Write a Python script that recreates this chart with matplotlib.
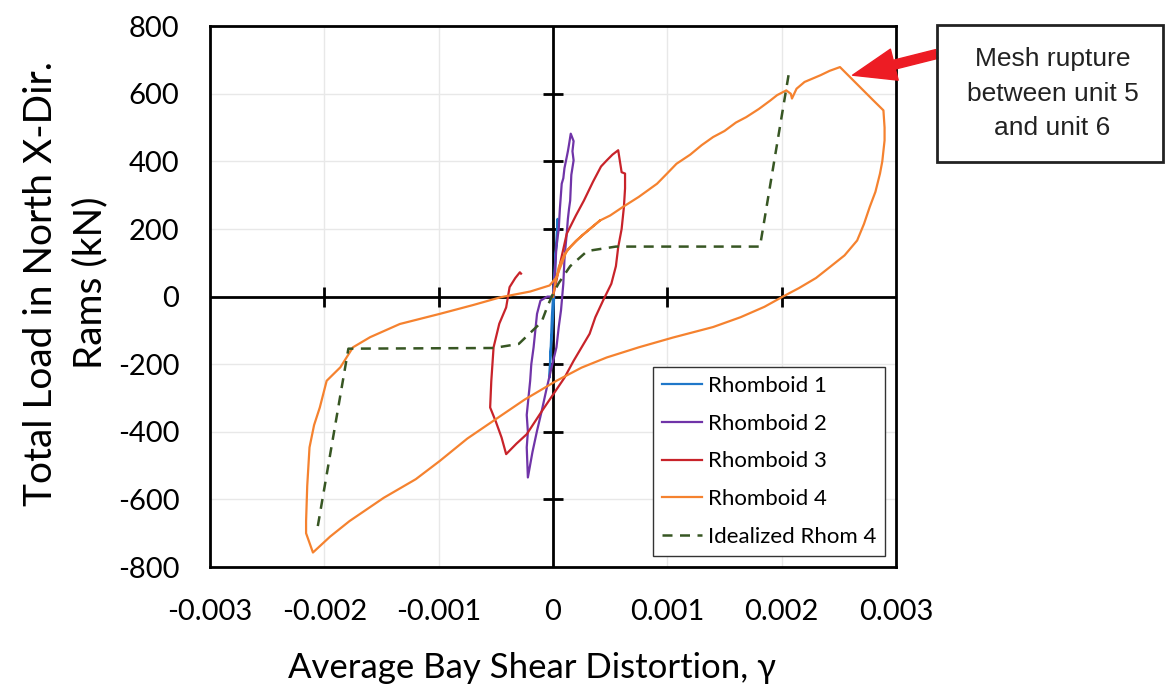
import matplotlib
matplotlib.use("Agg")
import matplotlib.pyplot as plt
import numpy as np
from matplotlib.patches import Rectangle

plt.rcParams["axes.unicode_minus"] = False

# shear distortion in units of 1e-3, load in kN
rh1_g = [0.0, 0.01, 0.02, 0.03, 0.04, 0.035, 0.02, 0.02, 0.0, -0.01, -0.02, -0.03, -0.025, -0.01, 0.0, 0.01]
rh1_p = [0, 60, 110, 170, 230, 160, 120, 60, 0, -60, -150, -239, -180, -120, -60, 0]

rh2_g = [0.0, 0.02, 0.03, 0.05, 0.06, 0.076, 0.09, 0.1, 0.12, 0.13, 0.14, 0.155, 0.18, 0.17, 0.18, 0.16,
         0.15, 0.14, 0.13, 0.12, 0.11, 0.1, 0.09, 0.07, 0.05, 0.03, -0.02, -0.06, -0.1, -0.14, -0.18,
         -0.22, -0.23, -0.22, -0.23, -0.2, -0.19, -0.17, -0.14, -0.11, -0.05, 0.0]
rh2_p = [0, 90, 150, 200, 260, 334, 350, 380, 413, 430, 450, 482, 460, 430, 403, 360,
         284, 260, 230, 186, 150, 110, 38, -40, -90, -150, -220, -278, -340, -397, -460,
         -535, -446, -400, -350, -249, -200, -150, -51, -12, 0, 0]

rh3_g = [0.0, 0.05, 0.12, 0.2, 0.27, 0.35, 0.42, 0.47, 0.52, 0.57, 0.6, 0.63, 0.63, 0.62, 0.6, 0.57,
         0.55, 0.51, 0.44, 0.37, 0.32, 0.25, 0.18, 0.1, 0.0, -0.1, -0.23, -0.32, -0.41, -0.45, -0.5,
         -0.55, -0.54, -0.52, -0.47, -0.41, -0.38, -0.33, -0.29, -0.28]
rh3_p = [0, 80, 186, 240, 284, 340, 385, 403, 420, 433, 368, 364, 320, 265, 200, 146,
         90, 38, -10, -61, -110, -150, -190, -240, -290, -340, -407, -435, -466, -417, -370,
         -328, -250, -150, -80, -32, 28, 55, 72, 68]

rh4_g = [0.0, 0.02, 0.05, 0.1, 0.15, 0.25, 0.41, 0.5, 0.61, 0.75, 0.91, 1.0, 1.08, 1.2, 1.3, 1.4,
         1.5, 1.6, 1.69, 1.8, 1.9, 1.96, 2.04, 2.08, 2.09, 2.13, 2.2, 2.34, 2.42, 2.51, 2.8, 2.89,
         2.9, 2.9, 2.88, 2.86, 2.82, 2.77, 2.72, 2.66, 2.55, 2.42, 2.3, 2.15, 2.01, 1.85, 1.64,
         1.4, 1.05, 0.75, 0.47, 0.25, 0.03, -0.25, -0.52, -0.75, -0.99, -1.2, -1.48, -1.78,
         -1.95, -2.1, -2.16, -2.16, -2.15, -2.13, -2.09, -2.04, -1.98, -1.86, -1.75, -1.6,
         -1.34, -0.99, -0.7, -0.46, -0.2, -0.03, 0.0, 0.03, 0.12, 0.2, 0.41]
rh4_p = [0, 40, 87, 125, 146, 180, 225, 240, 265, 295, 334, 365, 393, 420, 448, 472,
         490, 515, 531, 555, 580, 596, 610, 600, 586, 615, 635, 655, 668, 679, 581, 551,
         500, 462, 400, 364, 310, 265, 215, 166, 122, 87, 55, 25, 0, -30, -61,
         -90, -121, -150, -180, -210, -249, -305, -367, -420, -486, -540, -595, -664,
         -710, -757, -700, -664, -560, -446, -380, -328, -249, -209, -150, -120,
         -81, -51, -25, -2, 15, 33, 45, 57, 136, 165, 225]

ideal_g = [2.06, 1.81, 0.55, 0.3, 0.15, 0.05, 0.0, -0.05, -0.1, -0.3, -0.52, -1.79, -2.06]
ideal_p = [655, 148, 148, 135, 90, 40, 9, -30, -75, -140, -152, -154, -684]

x_ticks = [-0.003, -0.002, -0.001, 0, 0.001, 0.002, 0.003]
x_labels = ["-0.003", "-0.002", "-0.001", "0", "0.001", "0.002", "0.003"]
y_ticks = [-800, -600, -400, -200, 0, 200, 400, 600, 800]

font = "Lato"

fig = plt.figure(figsize=(11.65, 6.89), dpi=100)
ax = fig.add_axes([0.1803, 0.177, 0.5888, 0.785])

series = [
    (rh1_g, rh1_p, "#1F77C9", "Rhomboid 1"),
    (rh2_g, rh2_p, "#7034A8", "Rhomboid 2"),
    (rh3_g, rh3_p, "#C8232A", "Rhomboid 3"),
    (rh4_g, rh4_p, "#F5822F", "Rhomboid 4"),
]
for g, p, c, lab in series:
    ax.plot(np.array(g) * 1e-3, p, color=c, lw=1.6, label=lab, zorder=4)
ax.plot(np.array(ideal_g) * 1e-3, ideal_p, color="#375623", ls=(0, (4, 3)), lw=1.8,
        label="Idealized Rhom 4", zorder=5)

ax.set_xlim(-0.003, 0.003)
ax.set_ylim(-800, 800)
ax.set_xticks(x_ticks)
ax.set_xticklabels(x_labels)
ax.set_yticks(y_ticks)
ax.grid(True, color="#E8E8E8", lw=1, zorder=0)
ax.set_axisbelow(True)
ax.tick_params(length=0, labelsize=21)
ax.tick_params(axis="y", pad=22)
ax.tick_params(axis="x", pad=23)
for lbl in ax.get_xticklabels() + ax.get_yticklabels():
    lbl.set_fontfamily(font)
for s in ax.spines.values():
    s.set_linewidth(2)

# axes through the origin with crossing ticks
ax.axhline(0, color="black", lw=2, zorder=3)
ax.axvline(0, color="black", lw=2, zorder=3)
inner_x = [t for t in x_ticks if t not in (0, -0.003, 0.003)]
inner_y = [t for t in y_ticks if t not in (0, -800, 800)]
ax.plot(inner_x, [0] * len(inner_x), ls="none", marker="|", ms=14, mew=2, color="black", zorder=3)
ax.plot([0] * len(inner_y), inner_y, ls="none", marker="_", ms=14, mew=2, color="black", zorder=3)

ax.set_xlabel("Average Bay Shear Distortion, γ", fontsize=25, family=font)
ax.xaxis.set_label_coords(0.47, -0.157)
ax.set_ylabel("Total Load in North X-Dir.\nRams (kN)", fontsize=28, family=font, linespacing=1.45)
ax.yaxis.set_label_coords(-0.148, 0.525)

leg = ax.legend(loc="lower right", prop={"family": font, "size": 16},
                fancybox=False, framealpha=1, edgecolor="#333333", handlelength=1.8,
                handletextpad=0.25, labelspacing=0.8, borderaxespad=0.5, borderpad=0.4)
leg.get_frame().set_linewidth(1)

# annotation box and arrow
fig.patches.append(Rectangle((0.804, 0.765), 0.194, 0.199, transform=fig.transFigure,
                             fill=False, edgecolor="#222222", lw=2))
fig.text(0.9035, 0.864, "Mesh rupture\nbetween unit 5\nand unit 6", ha="center", va="center",
         fontsize=19, family="Liberation Sans", linespacing=1.55, color="#222222")
ax.annotate("", xy=(0.00262, 655), xycoords="data",
            xytext=(0.804, 1 - 54 / 689), textcoords="figure fraction",
            arrowprops=dict(arrowstyle="simple,head_length=3.1,head_width=2.3,tail_width=0.65",
                            mutation_scale=10, color="#ED1C24", shrinkA=0, shrinkB=0),
            annotation_clip=False)

fig.savefig("out.png", dpi=100)
